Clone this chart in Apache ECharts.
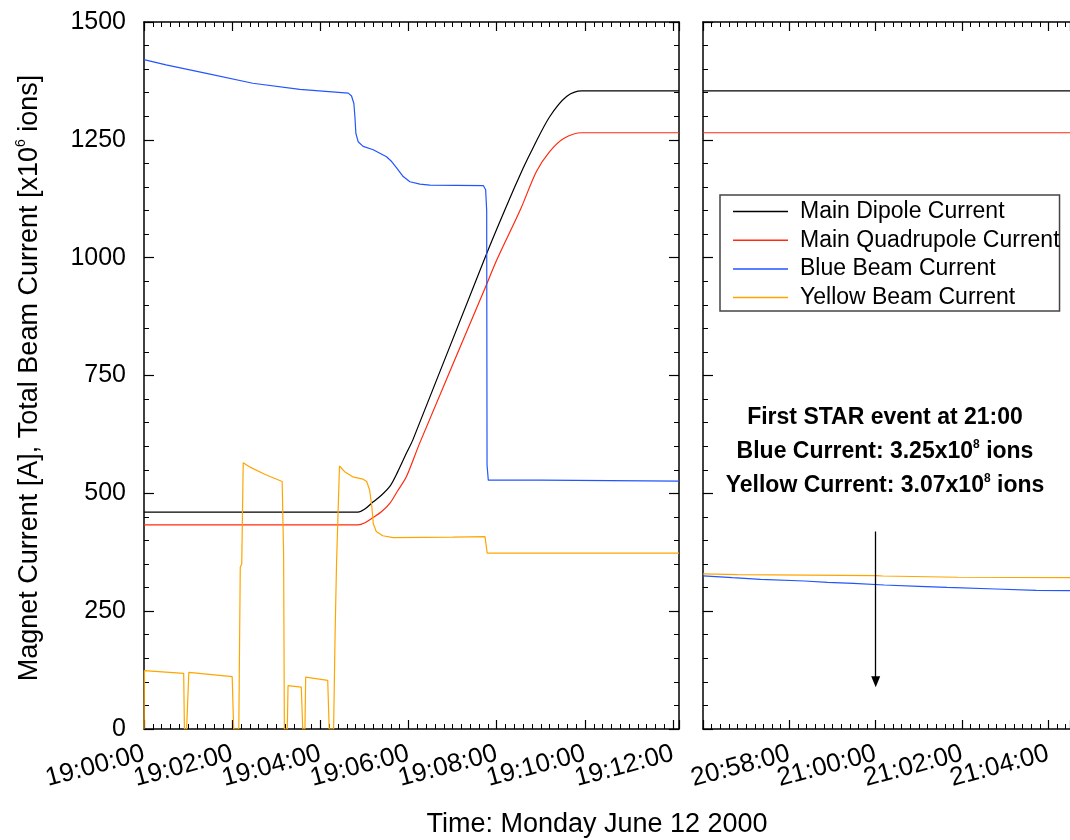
<!DOCTYPE html>
<html><head><meta charset="utf-8">
<script src="https://cdn.jsdelivr.net/npm/echarts@6/dist/echarts.min.js"></script>
<style>html,body{margin:0;padding:0;background:#fff}#c{width:1070px;height:840px}</style>
</head><body><div id="c"></div>
<script>
// ---- data (time of day, value) ----
const dipoleLeftTime  = ["19:00:00","19:04:51","19:05:00","19:05:12","19:05:23","19:05:35","19:05:45","19:05:57","19:06:06","19:07:44","19:08:12","19:08:36","19:08:50","19:09:12","19:09:35","19:09:56","19:12:08"];
const dipoleLeftValue = [460,460,466,482,496,516,545,585,614,1000,1105,1190,1235,1299,1342,1354,1354];
const quadLeftTime  = ["19:00:00","19:04:51","19:05:00","19:05:12","19:05:23","19:05:35","19:05:45","19:05:57","19:06:15","19:07:44","19:08:00","19:08:33","19:08:54","19:09:12","19:09:31","19:09:56","19:12:08"];
const quadLeftValue = [433,433,437,449,461,480,505,535,606,935,995,1105,1183,1225,1253,1265,1265];
const blueLeftTime  = ["19:00:00","19:00:30","19:01:25","19:02:28","19:03:32","19:04:38","19:04:42.4","19:04:45.6","19:04:47","19:04:48.3","19:04:51.4","19:04:58.2","19:05:11.9","19:05:30","19:05:37","19:05:44","19:05:52.7","19:06:01.8","19:06:15.5","19:06:29","19:07:41.7","19:07:44.9","19:07:46.3","19:07:46.8","19:07:48.5","19:09:00","19:12:08"];
const blueLeftValue = [1420,1409,1391,1370,1357,1349,1343,1327,1299,1264,1246,1236,1229,1214,1204,1190,1172,1161,1156,1154,1153,1144,1100,560,528,528,526];
const yellowLeftTime  = ["19:00:00","19:00:00.5","19:00:54","19:00:55","19:00:58","19:01:01","19:02:00","19:02:02","19:02:09","19:02:10","19:02:11","19:02:13","19:02:15","19:02:25","19:02:45","19:03:08","19:03:10","19:03:11","19:03:15","19:03:16","19:03:34","19:03:36","19:03:39","19:03:40","19:04:10","19:04:12","19:04:18","19:04:20","19:04:22","19:04:26","19:04:33","19:04:44","19:04:58","19:05:03","19:05:07","19:05:10","19:05:12","19:05:16","19:05:25","19:05:39","19:07:00","19:07:44","19:07:47","19:12:08"];
const yellowLeftValue = [0,124,118,0,0,120,111,0,0,175,343,350,565,555,540,525,366,0,0,92,89,0,0,110,103,0,0,199,351,558,546,535,530,525,507,472,436,419,410,406,407,408,373,373];

const dipoleRightTime  = ["20:56:00","21:04:30"];
const dipoleRightValue = [1354,1354];
const quadRightTime  = ["20:56:00","21:04:30"];
const quadRightValue = [1265,1265];
const blueRightTime  = ["20:56:00","20:56:41","20:57:20","20:58:21","20:58:53","20:59:29","21:00:12","21:01:00","21:01:39","21:02:47","21:03:43","21:04:30"];
const blueRightValue = [325,321,317.6,314,311,309,305.5,302.8,300.6,297,294,293.5];
const yellowRightTime  = ["20:56:00","20:56:48","21:00:00","21:00:10","21:01:54","21:04:30"];
const yellowRightValue = [329,327.5,325.5,324.6,322,321];

const seriesNames = ["Main Dipole Current","Main Quadrupole Current","Blue Beam Current","Yellow Beam Current"];
const leftRange  = ["19:00:00","19:12:08"];
const rightRange = ["20:56:00","21:04:30"];
const yTicks = [0,250,500,750,1000,1250,1500];
const arrowTime = "21:00:00";
const arrowFrom = 419, arrowTo = 100;
const noteLines = ["First STAR event at 21:00","Blue Current: 3.25x10{sup|8} ions","Yellow Current: 3.07x10{sup|8} ions"];
const yTitle = "Magnet Current [A], Total Beam Current [x10{sup|6} ions]";
const xTitle = "Time: Monday June 12 2000";

// ---- helpers ----
function toSec(s){const p=s.split(':');return (+p[0])*3600+(+p[1])*60+parseFloat(p[2]);}
function pad(n){return (n<10?'0':'')+n;}
function fmt(v){v=Math.round(v);return pad(Math.floor(v/3600))+':'+pad(Math.floor(v%3600/60))+':'+pad(v%60);}
function pair(t,v){return t.map((x,i)=>[toSec(x),v[i]]);}

const colors = ['#000000','#ff2a10','#2255ff','#ffa500'];
const FONT = 'Liberation Sans';
const STEP = 120;

// geometry of panels
const G0 = {left:144, top:22, width:535, height:707};
const G1 = {left:703, top:22, width:374.8, height:707};
const leftLo = toSec(leftRange[0]), leftHi = toSec(leftRange[1]);
const pxPerSec = G0.width/(leftHi-leftLo);
// label-only grid: same scale as left panel, one step wider on the left so 19:00:00 is not the axis minimum
const G2 = {left:G0.left - STEP*pxPerSec, top:G0.top, width:G0.width + STEP*pxPerSec, height:G0.height};

function lineSeries(idx, t, v, xi, yi, smooth){
  return {name: seriesNames[idx], type:'line', xAxisIndex:xi, yAxisIndex:yi, data: pair(t,v),
    showSymbol:false, symbol:'none', animation:false, silent:true,
    smooth: smooth || false,
    lineStyle:{color:colors[idx], width:1.2}, itemStyle:{color:colors[idx]}};
}

const labelStyle = {rotate:15, margin:24, fontSize:26, lineHeight:18, fontFamily:FONT, color:'#000'};

function xAx(grid, lo, hi, pos, labels){
  return {type:'value', gridIndex:grid, position:pos, min:lo, max:hi, interval:STEP,
    axisLine:{show:true, onZero:false, lineStyle:{color:'#000', width:1.5}},
    axisTick:{show:true, inside:true, length:9, lineStyle:{color:'#000', width:1.2}},
    minorTick:{show:true, splitNumber:10, length:5, lineStyle:{color:'#000', width:1}},
    splitLine:{show:false}, minorSplitLine:{show:false},
    axisLabel:Object.assign({show:labels, showMaxLabel:false, showMinLabel:false,
      formatter: v => ((Math.round(v)%STEP===0 && Math.round(v)!==lo) ? fmt(v) : '')}, labelStyle)};
}
function labelAxis(grid, lo, hi){
  return {type:'value', gridIndex:grid, position:'bottom', min:lo, max:hi, interval:STEP,
    axisLine:{show:false, onZero:false}, axisTick:{show:false}, minorTick:{show:false}, splitLine:{show:false},
    axisLabel:Object.assign({show:true, showMaxLabel:false, showMinLabel:false,
      formatter: v => ((Math.round(v)%STEP===0 && Math.round(v)!==lo) ? fmt(v) : '')}, labelStyle)};
}
function yAx(grid, pos, labels, show){
  return {type:'value', gridIndex:grid, position:pos, show: show!==false,
    min:yTicks[0], max:yTicks[yTicks.length-1], interval:yTicks[1]-yTicks[0],
    axisLine:{show:true, onZero:false, lineStyle:{color:'#000', width:1.5}},
    axisTick:{show:true, inside:true, length:10, lineStyle:{color:'#000', width:1.2}},
    minorTick:{show:true, splitNumber:5, length:5, lineStyle:{color:'#000', width:1}},
    splitLine:{show:false},
    axisLabel:{show:labels, margin:18, fontSize:25, fontFamily:FONT, color:'#000', formatter: v => String(v)}};
}

const chart = echarts.init(document.getElementById('c'), null, {renderer:'canvas'});
const arrowX = toSec(arrowTime);
const rLo = toSec(rightRange[0]), rHi = toSec(rightRange[1]);
const option = {
  animation:false,
  backgroundColor:'#fff',
  grid:[G0, G1, G2],
  xAxis:[ xAx(0,leftLo,leftHi,'bottom',false), xAx(1,rLo,rHi,'bottom',true),
          xAx(0,leftLo,leftHi,'top',false), xAx(1,rLo,rHi,'top',false),
          labelAxis(2, leftLo-STEP, leftHi) ],
  yAxis:[ yAx(0,'left',true), yAx(0,'right',false), yAx(1,'left',false), yAx(2,'left',false,false) ],
  legend:{
    orient:'vertical', left:720, top:195,
    data: seriesNames.map(n=>({name:n, icon:'rect'})),
    itemWidth:55, itemHeight:1.5, itemGap:5.7,
    borderColor:'#444', borderWidth:1.5, padding:[5,0,2,13],
    backgroundColor:'#fff',
    textStyle:{fontSize:23, fontFamily:FONT, color:'#000', lineHeight:22, padding:[0,0,0,7]},
    selectedMode:false
  },
  series:[
    lineSeries(0, dipoleLeftTime, dipoleLeftValue, 0, 0, 0.3),
    lineSeries(1, quadLeftTime, quadLeftValue, 0, 0, 0.3),
    lineSeries(2, blueLeftTime, blueLeftValue, 0, 0),
    lineSeries(3, yellowLeftTime, yellowLeftValue, 0, 0),
    lineSeries(0, dipoleRightTime, dipoleRightValue, 1, 2),
    lineSeries(1, quadRightTime, quadRightValue, 1, 2),
    lineSeries(2, blueRightTime, blueRightValue, 1, 2),
    lineSeries(3, yellowRightTime, yellowRightValue, 1, 2),
    {name:'arrow', type:'line', xAxisIndex:1, yAxisIndex:2, data:[], silent:true,
     markLine:{silent:true, symbol:['none','triangle'], symbolSize:[9,11], label:{show:false},
       lineStyle:{color:'#000', width:1.3, type:'solid'},
       data:[[{coord:[arrowX, arrowFrom]},{coord:[arrowX, arrowTo]}]]}}
  ],
  graphic:[
    {type:'text', x:30, y:378, rotation:Math.PI/2,
     style:{text:yTitle, fontSize:27, fontFamily:FONT, fill:'#000', align:'center', verticalAlign:'middle',
       rich:{sup:{fontSize:14, fontFamily:FONT, fill:'#000', verticalAlign:'top', lineHeight:32}}}},
    {type:'text', x:597, y:825,
     style:{text:xTitle, fontSize:27, fontFamily:FONT, fill:'#000', align:'center', verticalAlign:'middle'}},
    {type:'text', x:885, y:418,
     style:{text:noteLines[0], fontSize:23, fontWeight:'bold', fontFamily:FONT, fill:'#000', align:'center', verticalAlign:'middle'}},
    {type:'text', x:885, y:452,
     style:{text:noteLines[1], fontSize:23, fontWeight:'bold', fontFamily:FONT, fill:'#000', align:'center', verticalAlign:'middle',
       rich:{sup:{fontSize:12, fontWeight:'bold', fontFamily:FONT, fill:'#000', verticalAlign:'top', lineHeight:26}}}},
    {type:'text', x:885, y:486,
     style:{text:noteLines[2], fontSize:23, fontWeight:'bold', fontFamily:FONT, fill:'#000', align:'center', verticalAlign:'middle',
       rich:{sup:{fontSize:12, fontWeight:'bold', fontFamily:FONT, fill:'#000', verticalAlign:'top', lineHeight:26}}}}
  ]
};
chart.setOption(option);
</script>
</body></html>
